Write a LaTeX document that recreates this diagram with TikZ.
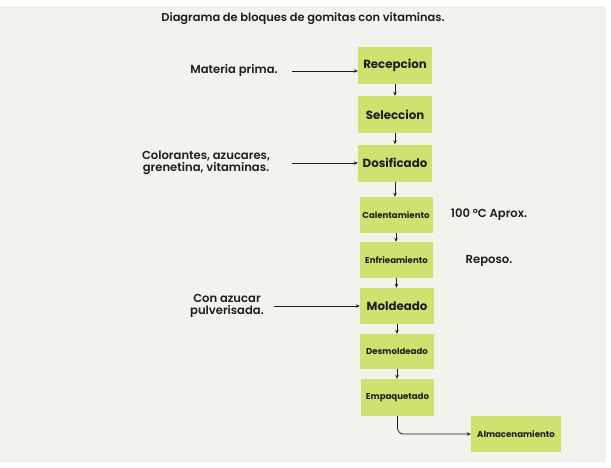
\documentclass[tikz,border=0pt]{standalone}
\usepackage{fontspec}
\setmainfont{Poppins}
\newfontfamily\medfont{Poppins SemiBold}
\usetikzlibrary{arrows.meta}
\definecolor{bgc}{RGB}{243,243,238}
\definecolor{boxc}{RGB}{206,226,112}
\definecolor{ink}{RGB}{30,30,30}
\tikzset{
  stepbox/.style={fill=boxc, draw=none, minimum width=74pt, minimum height=37pt, inner sep=0pt, text=ink, font=\bfseries\fontsize{11.8}{14}\selectfont},
  smallbox/.style={stepbox, font=\bfseries\fontsize{8.6}{10}\selectfont},
  lbl/.style={text=ink, align=center, inner sep=0pt, font=\medfont\fontsize{11.6}{12.5}\selectfont},
  arr/.style={draw=ink, line width=0.8pt, -{Stealth[length=4pt,width=3.5pt]}},
}
\begin{document}
\begin{tikzpicture}[x=1pt,y=-1pt]
\useasboundingbox (0,0) rectangle (611,467);
\fill[bgc] (0,6) rectangle (606,462);
\node[lbl, font=\medfont\fontsize{11.4}{12}\selectfont] (title) at (303,19) {Diagrama de bloques de gomitas con vitaminas.};
\node[stepbox] (rec) at (395,65) {Recepcion};
\node[stepbox] (sel) at (395,114.5) {Seleccion};
\node[stepbox] (dos) at (395,163) {Dosificado};
\node[smallbox, minimum height=36pt, minimum width=73pt] (cal) at (396,215) {Calentamiento};
\node[smallbox, minimum height=36pt, minimum width=73pt] (enf) at (396.5,260) {Enfrieamiento};
\node[stepbox, minimum height=36pt] (mol) at (397,306) {Moldeado};
\node[smallbox, minimum height=35pt] (des) at (397,351.5) {Desmoldeado};
\node[smallbox, minimum height=37pt, minimum width=73pt] (emp) at (397.5,397.5) {Empaquetado};
\node[smallbox, minimum height=36pt, minimum width=90pt] (alm) at (516,434) {Almacenamiento};
\node[lbl] (mp) at (234,70) {Materia prima.};
\node[lbl] (col) at (206,163) {Colorantes, azucares,\\grenetina, vitaminas.};
\node[lbl] (con) at (227,306) {Con azucar\\pulverisada.};
\node[lbl] (temp) at (489,215) {100 °C Aprox.};
\node[lbl] (rep) at (489,261) {Reposo.};
\coordinate (mpA) at (292,71);
\coordinate (colA) at (292,163);
\coordinate (conA) at (274,306);
\draw[arr] (mpA) -- (rec.west |- mpA);
\draw[arr] (colA) -- (dos.west |- colA);
\draw[arr] (conA) -- (mol.west |- conA);
\draw[arr] (rec.south) -- (sel.north);
\draw[arr] (sel.south) -- (dos.north);
\draw[arr] (dos.south) -- (dos.south |- cal.north);
\draw[arr] (cal.south) -- (cal.south |- enf.north);
\draw[arr] (enf.south) -- (enf.south |- mol.north);
\draw[arr] (mol.south) -- (des.north);
\draw[arr] (des.south) -- (des.south |- emp.north);
\draw[arr, rounded corners=6pt] (emp.south) -- (emp.south |- alm.west) -- (alm.west);
\end{tikzpicture}
\end{document}
